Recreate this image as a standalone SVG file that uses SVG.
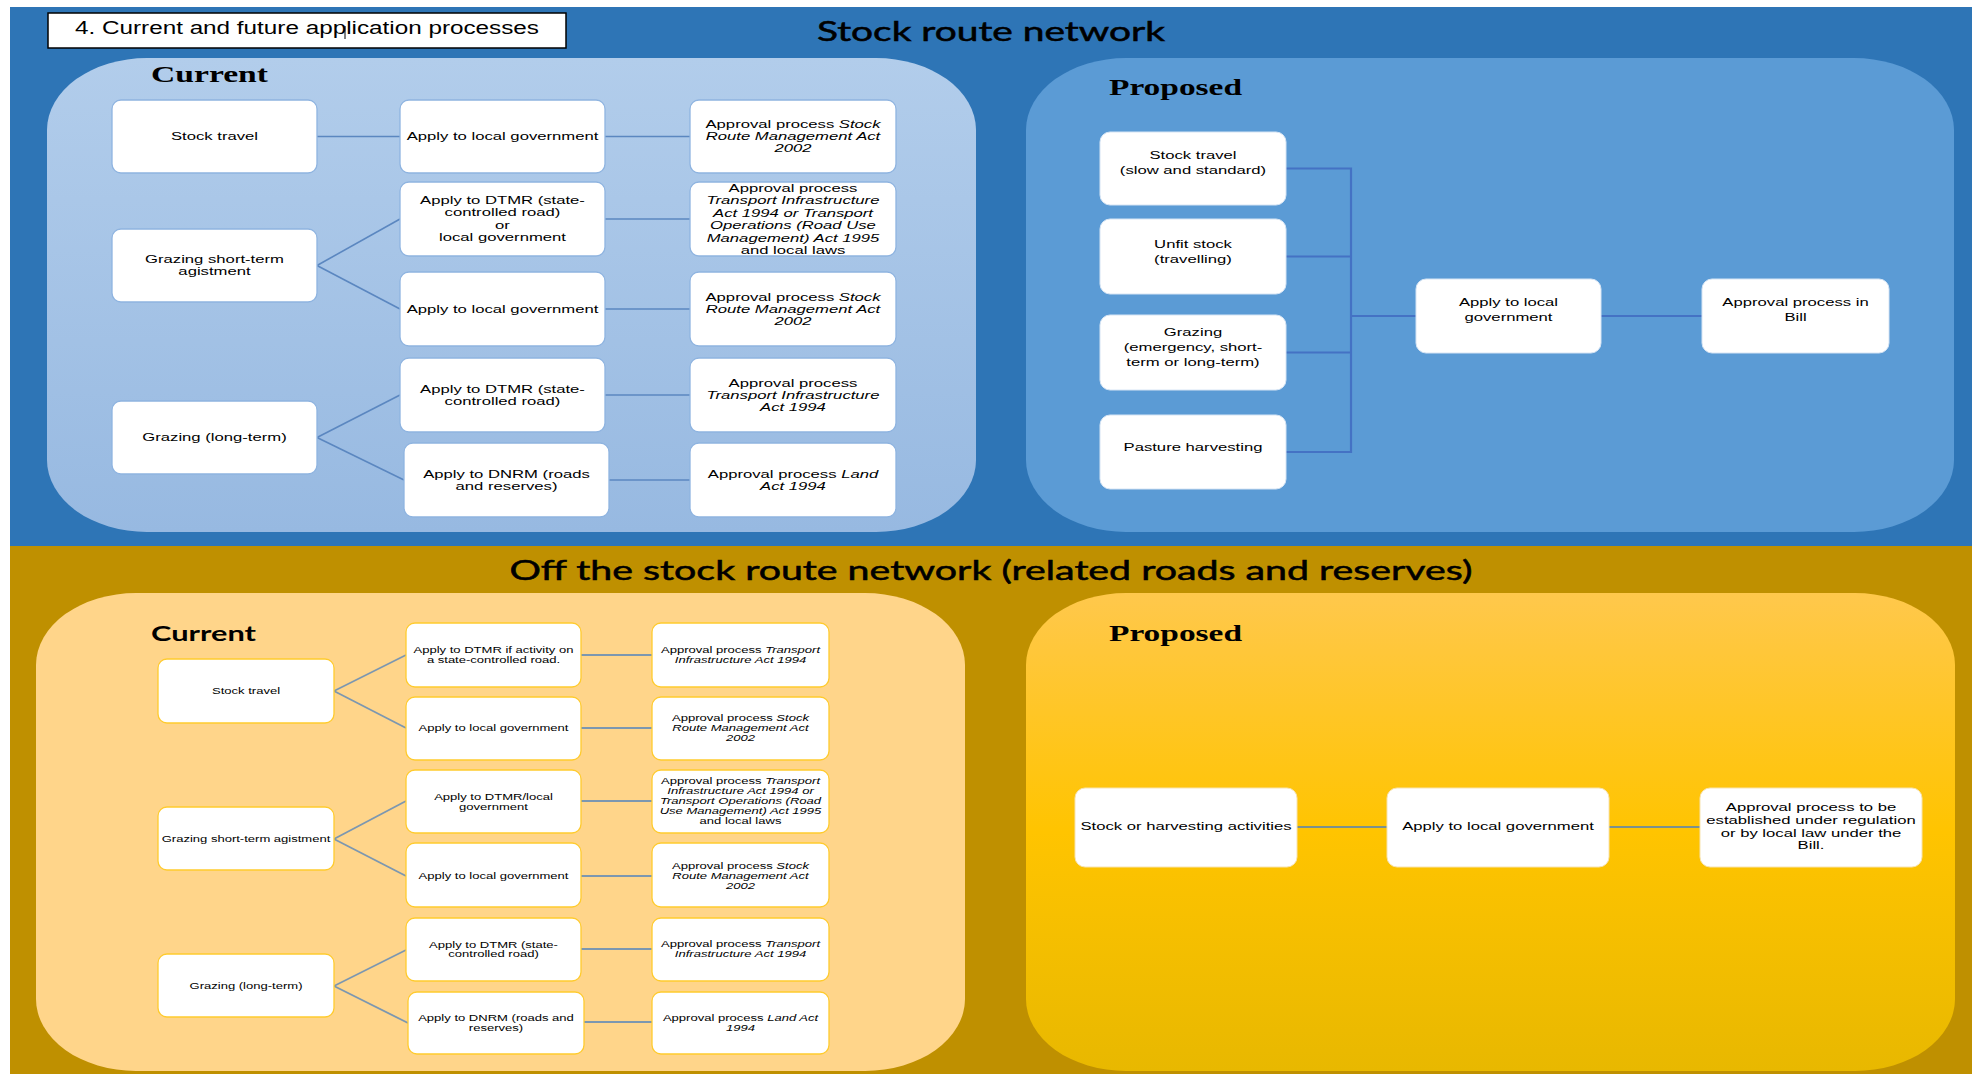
<svg xmlns="http://www.w3.org/2000/svg" width="1977" height="1074" viewBox="0 0 1977 1074">
<defs>
<linearGradient id="gTopCur" x1="0" y1="0" x2="0" y2="1"><stop offset="0" stop-color="#B2CDEB"/><stop offset="1" stop-color="#97B9E1"/></linearGradient>
<linearGradient id="gBotProp" x1="0" y1="0" x2="0" y2="1"><stop offset="0" stop-color="#FFC84C"/><stop offset="0.5" stop-color="#FFC400"/><stop offset="1" stop-color="#E8B800"/></linearGradient>
<style>
.t{font-family:"Liberation Sans",Arial,sans-serif;fill:#000;text-anchor:middle}
.bt{font-size:11.5px}
.st{font-size:9px}
.i{font-style:italic}
.hd{font-family:Lato,"Open Sans",sans-serif;font-size:26px;fill:#000;stroke:#000;stroke-width:0.5;text-anchor:middle}
.lbs{font-family:"Liberation Serif","Times New Roman",serif;font-weight:bold;font-size:22.5px;fill:#000}
.lbc{font-family:Lato,"Open Sans",sans-serif;font-weight:bold;font-size:21px;fill:#000}
.nb{fill:#fff;stroke:#8FB4E0;stroke-width:1.3}
.np{fill:#fff;stroke:#D6E4F4;stroke-width:1}
.ny{fill:#fff;stroke:#FFCB2E;stroke-width:1.3}
.nq{fill:#fff;stroke:#F7E3B0;stroke-width:1}
.c1{stroke:#5B87C0;stroke-width:1.6;fill:none}
.c2{stroke:#4472C4;stroke-width:2.2;fill:none}
.c3{stroke:#7C97B0;stroke-width:1.8;fill:none}
.c4{stroke:#4F81BD;stroke-width:1.3;fill:none}
</style>
</defs>
<rect x="0" y="0" width="1977" height="1074" fill="#fff"/>
<g id="backgrounds">
<rect x="10" y="7" width="1962" height="539" fill="#2E75B6"/>
<rect x="10" y="546" width="1962" height="528" fill="#BF9000"/>
<rect x="47" y="58" width="929" height="474" rx="100" ry="72" fill="url(#gTopCur)"/>
<rect x="1026" y="58" width="928" height="474" rx="100" ry="72" fill="#5B9BD5"/>
<rect x="36" y="593" width="929" height="478" rx="100" ry="72" fill="#FFD58A"/>
<rect x="1026" y="593" width="929" height="478" rx="100" ry="72" fill="url(#gBotProp)"/>
</g>
<g id="title">
<rect x="48" y="13" width="518" height="35" fill="#fff" stroke="#000" stroke-width="1.5"/>
<text x="75" y="34" font-family="Liberation Sans, Arial, sans-serif" font-size="17.5" textLength="464" lengthAdjust="spacingAndGlyphs">4. Current and future application processes</text>
<line x1="345" y1="26" x2="345" y2="39" stroke="#000" stroke-width="1"/>
</g>
<g id="headers">
<text class="hd" x="991" y="41" textLength="348" lengthAdjust="spacingAndGlyphs">Stock route network</text>
<text class="hd" x="991" y="580" textLength="963" lengthAdjust="spacingAndGlyphs">Off the stock route network (related roads and reserves)</text>
<text class="lbs" x="151" y="82" textLength="117" lengthAdjust="spacingAndGlyphs">Current</text>
<text class="lbs" x="1109" y="95" textLength="133" lengthAdjust="spacingAndGlyphs">Proposed</text>
<text class="lbc" x="151" y="641" textLength="105" lengthAdjust="spacingAndGlyphs">Current</text>
<text class="lbs" x="1109" y="641" textLength="133" lengthAdjust="spacingAndGlyphs">Proposed</text>
</g>
<g id="connectors">
<line class="c1" x1="317" y1="136.5" x2="400" y2="136.5"/>
<line class="c1" x1="605" y1="136.5" x2="690" y2="136.5"/>
<line class="c1" x1="317" y1="265.5" x2="400" y2="219"/>
<line class="c1" x1="317" y1="265.5" x2="400" y2="309"/>
<line class="c1" x1="605" y1="219" x2="690" y2="219"/>
<line class="c1" x1="605" y1="309" x2="690" y2="309"/>
<line class="c1" x1="317" y1="437.5" x2="400" y2="395"/>
<line class="c1" x1="317" y1="437.5" x2="404" y2="480"/>
<line class="c1" x1="605" y1="395" x2="690" y2="395"/>
<line class="c1" x1="609" y1="480" x2="690" y2="480"/>
<polyline class="c2" points="1286,168.5 1351,168.5 1351,452 1286,452"/>
<line class="c2" x1="1286" y1="256.5" x2="1351" y2="256.5"/>
<line class="c2" x1="1286" y1="352.5" x2="1351" y2="352.5"/>
<line class="c2" x1="1351" y1="316" x2="1416" y2="316"/>
<line class="c2" x1="1601" y1="316" x2="1702" y2="316"/>
<line class="c3" x1="334" y1="691" x2="406" y2="655"/>
<line class="c3" x1="334" y1="691" x2="406" y2="728"/>
<line class="c3" x1="581" y1="655" x2="652" y2="655"/>
<line class="c3" x1="581" y1="728" x2="652" y2="728"/>
<line class="c3" x1="334" y1="839" x2="406" y2="801"/>
<line class="c3" x1="334" y1="839" x2="406" y2="876"/>
<line class="c3" x1="581" y1="801" x2="652" y2="801"/>
<line class="c3" x1="581" y1="876" x2="652" y2="876"/>
<line class="c3" x1="334" y1="986" x2="406" y2="950"/>
<line class="c3" x1="334" y1="986" x2="408" y2="1023"/>
<line class="c3" x1="581" y1="949" x2="652" y2="949"/>
<line class="c3" x1="584" y1="1022" x2="652" y2="1022"/>
<line class="c4" x1="1297" y1="827" x2="1387" y2="827"/>
<line class="c4" x1="1609" y1="827" x2="1700" y2="827"/>
</g>
<g id="n-cur-stock-travel"><rect class="nb" x="112" y="100" width="205" height="73" rx="9"/><text class="t bt" transform="translate(214.5 140) scale(1.45 1)"><tspan x="0">Stock travel</tspan></text></g>
<g id="n-cur-grazing-short"><rect class="nb" x="112" y="229" width="205" height="73" rx="9"/><text class="t bt" transform="translate(214.5 263) scale(1.45 1)"><tspan x="0">Grazing short-term</tspan><tspan x="0" dy="12.5">agistment</tspan></text></g>
<g id="n-cur-grazing-long"><rect class="nb" x="112" y="401" width="205" height="73" rx="9"/><text class="t bt" transform="translate(214.5 441) scale(1.45 1)"><tspan x="0">Grazing (long-term)</tspan></text></g>
<g id="n-cur-apply-lg1"><rect class="nb" x="400" y="100" width="205" height="73" rx="9"/><text class="t bt" transform="translate(502.5 140) scale(1.45 1)"><tspan x="0">Apply to local government</tspan></text></g>
<g id="n-cur-apply-dtmr-lg"><rect class="nb" x="400" y="182" width="205" height="74" rx="9"/><text class="t bt" transform="translate(502.5 204) scale(1.45 1)"><tspan x="0">Apply to DTMR (state-</tspan><tspan x="0" dy="12.5">controlled road)</tspan><tspan x="0" dy="12.5">or</tspan><tspan x="0" dy="12.5">local government</tspan></text></g>
<g id="n-cur-apply-lg2"><rect class="nb" x="400" y="272" width="205" height="74" rx="9"/><text class="t bt" transform="translate(502.5 313) scale(1.45 1)"><tspan x="0">Apply to local government</tspan></text></g>
<g id="n-cur-apply-dtmr"><rect class="nb" x="400" y="358" width="205" height="74" rx="9"/><text class="t bt" transform="translate(502.5 392.75) scale(1.45 1)"><tspan x="0">Apply to DTMR (state-</tspan><tspan x="0" dy="12.5">controlled road)</tspan></text></g>
<g id="n-cur-apply-dnrm"><rect class="nb" x="404" y="443" width="205" height="74" rx="9"/><text class="t bt" transform="translate(506.5 477.75) scale(1.45 1)"><tspan x="0">Apply to DNRM (roads</tspan><tspan x="0" dy="12.5">and reserves)</tspan></text></g>
<g id="n-cur-appr1"><rect class="nb" x="690" y="100" width="206" height="73" rx="9"/><text class="t bt" transform="translate(793 127.5) scale(1.45 1)"><tspan x="0">Approval process <tspan class="i">Stock</tspan></tspan><tspan x="0" dy="12.5" class="i">Route Management Act</tspan><tspan x="0" dy="12.5" class="i">2002</tspan></text></g>
<g id="n-cur-appr2"><rect class="nb" x="690" y="182" width="206" height="74" rx="9"/><text class="t bt" transform="translate(793 191.75) scale(1.45 1)"><tspan x="0">Approval process</tspan><tspan x="0" dy="12.5" class="i">Transport Infrastructure</tspan><tspan x="0" dy="12.5" class="i">Act 1994 or Transport</tspan><tspan x="0" dy="12.5" class="i">Operations (Road Use</tspan><tspan x="0" dy="12.5" class="i">Management) Act 1995</tspan><tspan x="0" dy="12.5">and local laws</tspan></text></g>
<g id="n-cur-appr3"><rect class="nb" x="690" y="272" width="206" height="74" rx="9"/><text class="t bt" transform="translate(793 300.5) scale(1.45 1)"><tspan x="0">Approval process <tspan class="i">Stock</tspan></tspan><tspan x="0" dy="12.5" class="i">Route Management Act</tspan><tspan x="0" dy="12.5" class="i">2002</tspan></text></g>
<g id="n-cur-appr4"><rect class="nb" x="690" y="358" width="206" height="74" rx="9"/><text class="t bt" transform="translate(793 386.5) scale(1.45 1)"><tspan x="0">Approval process</tspan><tspan x="0" dy="12.5" class="i">Transport Infrastructure</tspan><tspan x="0" dy="12.5" class="i">Act 1994</tspan></text></g>
<g id="n-cur-appr5"><rect class="nb" x="690" y="443" width="206" height="74" rx="9"/><text class="t bt" transform="translate(793 477.75) scale(1.45 1)"><tspan x="0">Approval process <tspan class="i">Land</tspan></tspan><tspan x="0" dy="12.5" class="i">Act 1994</tspan></text></g>
<g id="n-prop-stock-travel"><rect class="np" x="1100" y="132" width="186" height="73" rx="10"/><text class="t bt" transform="translate(1193 158.5) scale(1.45 1)"><tspan x="0">Stock travel</tspan><tspan x="0" dy="15.5">(slow and standard)</tspan></text></g>
<g id="n-prop-unfit"><rect class="np" x="1100" y="219" width="186" height="75" rx="10"/><text class="t bt" transform="translate(1193 248) scale(1.45 1)"><tspan x="0">Unfit stock</tspan><tspan x="0" dy="15.5">(travelling)</tspan></text></g>
<g id="n-prop-grazing"><rect class="np" x="1100" y="315" width="186" height="75" rx="10"/><text class="t bt" transform="translate(1193 336) scale(1.45 1)"><tspan x="0">Grazing</tspan><tspan x="0" dy="15">(emergency, short-</tspan><tspan x="0" dy="15">term or long-term)</tspan></text></g>
<g id="n-prop-pasture"><rect class="np" x="1100" y="415" width="186" height="74" rx="10"/><text class="t bt" transform="translate(1193 451) scale(1.45 1)"><tspan x="0">Pasture harvesting</tspan></text></g>
<g id="n-prop-apply"><rect class="np" x="1416" y="279" width="185" height="74" rx="10"/><text class="t bt" transform="translate(1508.5 306) scale(1.45 1)"><tspan x="0">Apply to local</tspan><tspan x="0" dy="15.5">government</tspan></text></g>
<g id="n-prop-bill"><rect class="np" x="1702" y="279" width="187" height="74" rx="10"/><text class="t bt" transform="translate(1795.5 306) scale(1.45 1)"><tspan x="0">Approval process in</tspan><tspan x="0" dy="15.5">Bill</tspan></text></g>
<g id="n-off-stock-travel"><rect class="ny" x="158" y="659" width="176" height="64" rx="9"/><text class="t st" transform="translate(246 694) scale(1.45 1)"><tspan x="0">Stock travel</tspan></text></g>
<g id="n-off-grazing-short"><rect class="ny" x="158" y="807" width="176" height="63" rx="9"/><text class="t st" transform="translate(246 842) scale(1.45 1)"><tspan x="0">Grazing short-term agistment</tspan></text></g>
<g id="n-off-grazing-long"><rect class="ny" x="158" y="954" width="176" height="63" rx="9"/><text class="t st" transform="translate(246 989) scale(1.45 1)"><tspan x="0">Grazing (long-term)</tspan></text></g>
<g id="n-off-apply-dtmr1"><rect class="ny" x="406" y="623" width="175" height="64" rx="9"/><text class="t st" transform="translate(493.5 653) scale(1.45 1)"><tspan x="0">Apply to DTMR if activity on</tspan><tspan x="0" dy="10">a state-controlled road.</tspan></text></g>
<g id="n-off-apply-lg1"><rect class="ny" x="406" y="697" width="175" height="63" rx="9"/><text class="t st" transform="translate(493.5 731) scale(1.45 1)"><tspan x="0">Apply to local government</tspan></text></g>
<g id="n-off-apply-dtmr-lg"><rect class="ny" x="406" y="770" width="175" height="63" rx="9"/><text class="t st" transform="translate(493.5 800) scale(1.45 1)"><tspan x="0">Apply to DTMR/local</tspan><tspan x="0" dy="10">government</tspan></text></g>
<g id="n-off-apply-lg2"><rect class="ny" x="406" y="843" width="175" height="64" rx="9"/><text class="t st" transform="translate(493.5 879) scale(1.45 1)"><tspan x="0">Apply to local government</tspan></text></g>
<g id="n-off-apply-dtmr2"><rect class="ny" x="406" y="918" width="175" height="63" rx="9"/><text class="t st" transform="translate(493.5 947.5) scale(1.45 1)"><tspan x="0">Apply to DTMR (state-</tspan><tspan x="0" dy="10">controlled road)</tspan></text></g>
<g id="n-off-apply-dnrm"><rect class="ny" x="408" y="992" width="176" height="62" rx="9"/><text class="t st" transform="translate(496 1021) scale(1.45 1)"><tspan x="0">Apply to DNRM (roads and</tspan><tspan x="0" dy="10">reserves)</tspan></text></g>
<g id="n-off-appr1"><rect class="ny" x="652" y="623" width="177" height="64" rx="9"/><text class="t st" transform="translate(740.5 653) scale(1.45 1)"><tspan x="0">Approval process <tspan class="i">Transport</tspan></tspan><tspan x="0" dy="10" class="i">Infrastructure Act 1994</tspan></text></g>
<g id="n-off-appr2"><rect class="ny" x="652" y="697" width="177" height="63" rx="9"/><text class="t st" transform="translate(740.5 721) scale(1.45 1)"><tspan x="0">Approval process <tspan class="i">Stock</tspan></tspan><tspan x="0" dy="10" class="i">Route Management Act</tspan><tspan x="0" dy="10" class="i">2002</tspan></text></g>
<g id="n-off-appr3"><rect class="ny" x="652" y="770" width="177" height="63" rx="9"/><text class="t st" transform="translate(740.5 784) scale(1.45 1)"><tspan x="0">Approval process <tspan class="i">Transport</tspan></tspan><tspan x="0" dy="10" class="i">Infrastructure Act 1994 or</tspan><tspan x="0" dy="10" class="i">Transport Operations (Road</tspan><tspan x="0" dy="10" class="i">Use Management) Act 1995</tspan><tspan x="0" dy="10">and local laws</tspan></text></g>
<g id="n-off-appr4"><rect class="ny" x="652" y="843" width="177" height="64" rx="9"/><text class="t st" transform="translate(740.5 869) scale(1.45 1)"><tspan x="0">Approval process <tspan class="i">Stock</tspan></tspan><tspan x="0" dy="10" class="i">Route Management Act</tspan><tspan x="0" dy="10" class="i">2002</tspan></text></g>
<g id="n-off-appr5"><rect class="ny" x="652" y="918" width="177" height="63" rx="9"/><text class="t st" transform="translate(740.5 947) scale(1.45 1)"><tspan x="0">Approval process <tspan class="i">Transport</tspan></tspan><tspan x="0" dy="10" class="i">Infrastructure Act 1994</tspan></text></g>
<g id="n-off-appr6"><rect class="ny" x="652" y="992" width="177" height="62" rx="9"/><text class="t st" transform="translate(740.5 1021) scale(1.45 1)"><tspan x="0">Approval process <tspan class="i">Land Act</tspan></tspan><tspan x="0" dy="10" class="i">1994</tspan></text></g>
<g id="n-offp-activities"><rect class="nq" x="1075" y="788" width="222" height="79" rx="10"/><text class="t bt" transform="translate(1186 830) scale(1.45 1)"><tspan x="0">Stock or harvesting activities</tspan></text></g>
<g id="n-offp-apply"><rect class="nq" x="1387" y="788" width="222" height="79" rx="10"/><text class="t bt" transform="translate(1498 830) scale(1.45 1)"><tspan x="0">Apply to local government</tspan></text></g>
<g id="n-offp-approval"><rect class="nq" x="1700" y="788" width="222" height="79" rx="10"/><text class="t bt" transform="translate(1811 811) scale(1.45 1)"><tspan x="0">Approval process to be</tspan><tspan x="0" dy="12.8">established under regulation</tspan><tspan x="0" dy="12.8">or by local law under the</tspan><tspan x="0" dy="12.8">Bill.</tspan></text></g>
</svg>
